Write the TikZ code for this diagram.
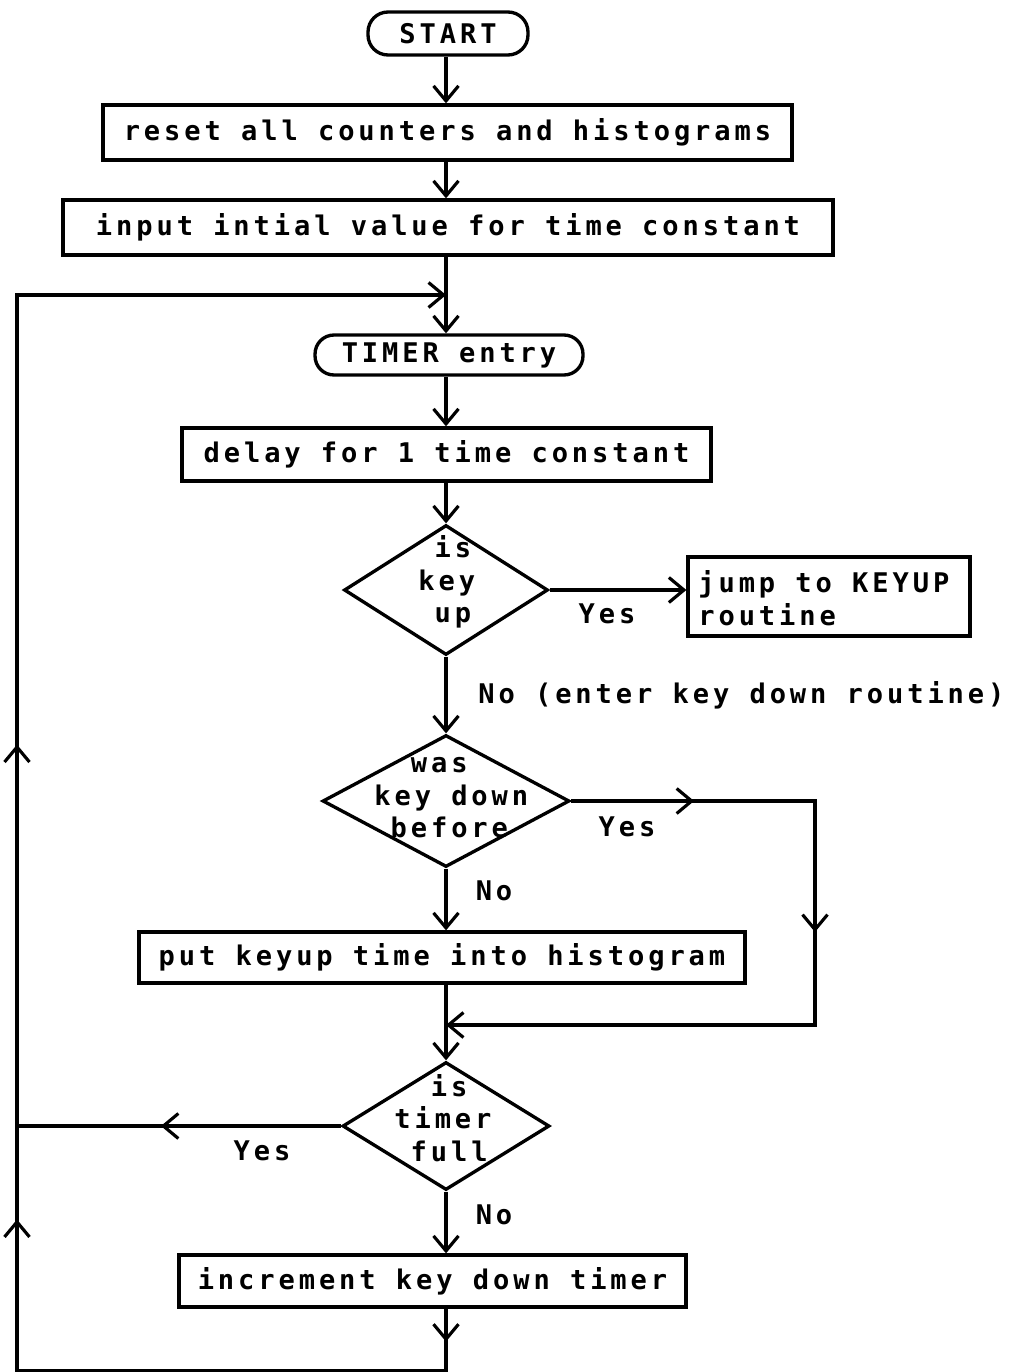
\documentclass[tikz,border=0pt]{standalone}
\usepackage{fontspec}
\setmonofont[LetterSpace=14.5]{DejaVu Sans Mono}
\usetikzlibrary{arrows.meta,shapes.geometric,decorations.markings}

\tikzset{
  >={Straight Barb[length=0.3cm,width=0.5cm,line width=1.8pt]},
  every node/.style={font=\ttfamily\bfseries\fontsize{15.4pt}{18.6pt}\selectfont, inner sep=0pt},
  flow/.style={line width=1.9pt, line join=miter},
  procbox/.style={draw, line width=1.9pt, rectangle, align=center},
  term/.style={draw, line width=1.9pt, rectangle, rounded corners=0.4cm},
  decision/.style={draw, line width=1.9pt, diamond},
  qtext/.style={align=left, anchor=west},
  midarrow/.style={postaction={decorate, decoration={markings,
      mark=at position #1 with {\arrow{>}}}}},
}

\begin{document}
\begin{tikzpicture}[x={(0.02cm,0)}, y={(0,-0.02cm)}]
  \path[use as bounding box] (0,0) rectangle (1029,1372);

  % vertical spine of the main flow
  \coordinate (spine) at (446,0);

  % terminals and process boxes
  \node[term, minimum width=3.2cm, minimum height=0.86cm] (start) at (448,33.5) {START};
  \node[procbox, minimum width=13.78cm, minimum height=1.1cm] (reset) at (447.5,132.5)
    {reset all counters and histograms};
  \node[procbox, minimum width=15.4cm, minimum height=1.1cm] (input) at (448,227.5)
    {input intial value for time constant};
  \node[term, minimum width=5.36cm, minimum height=0.8cm, rounded corners=0.38cm] (timer) at (449,355)
    {TIMER entry};
  \node[procbox, minimum width=10.58cm, minimum height=1.06cm] (delay) at (446.5,454.5)
    {delay for 1 time constant};

  % decision: is key up
  \node[decision, minimum width=4.08cm, minimum height=2.6cm] (q1) at (446,590) {};
  \node[qtext] (q1t) at (418,582) {\phantom{k}is\\key\\\phantom{k}up};
  \node[procbox, minimum width=5.64cm, minimum height=1.58cm] (jump) at (829,596.5) {};
  \node[qtext] (jumpt) at (698,598) {jump to KEYUP\\routine};

  % decision: was key down before
  \node[decision, minimum width=4.94cm, minimum height=2.64cm] (q2) at (446,801) {};
  \node[qtext] (q2t) at (374,795) {\phantom{ke}was\\key down\\\phantom{k}before};

  \node[procbox, minimum width=12.12cm, minimum height=1.02cm] (put) at (442,957.5)
    {put keyup time into histogram};

  % decision: is timer full
  \node[decision, minimum width=4.14cm, minimum height=2.56cm] (q3) at (446,1126) {};
  \node[qtext] (q3t) at (394,1118) {\phantom{ti}is\\timer\\\phantom{t}full};

  \node[procbox, minimum width=10.14cm, minimum height=1.04cm] (inc) at (432.5,1281)
    {increment key down timer};

  % routing points
  \coordinate (loopjoin) at (446,295);
  \coordinate (loopTL) at (17,295);
  \coordinate (loopBL) at (17,1371);
  \coordinate (loopBR) at (446,1371);
  \coordinate (yesR1) at (815,801);
  \coordinate (yesR2) at (815,1025);
  \coordinate (merge) at (446,1025);
  \coordinate (fullL) at (17,1126);

  % main flow
  \draw[flow,->] (start.south -| spine) -- (reset.north -| spine);
  \draw[flow,->] (reset.south -| spine) -- (input.north -| spine);
  \draw[flow,->] (input.south -| spine) -- (timer.north -| spine);
  \draw[flow,->] (timer.south -| spine) -- (delay.north -| spine);
  \draw[flow,->] (delay.south -| spine) -- (q1.north);
  \draw[flow,->] (q1.east) -- (jump.west |- q1.east);
  \draw[flow,->] (q1.south) -- (q2.north);
  \draw[flow,->] (q2.south) -- (put.north -| q2.south);
  \draw[flow,->] (put.south -| spine) -- (q3.north);
  \draw[flow,->] (q3.south) -- (inc.north -| q3.south);

  % "was key down before" yes branch
  \draw[flow,->,midarrow=2.46cm,midarrow=7.5cm] (q2.east) -- (yesR1) -- (yesR2) -- (merge);

  % "timer full" yes branch
  \draw[flow,midarrow=3.6cm] (q3.west) -- (fullL);

  % loop back to the timer entry
  \draw[flow,->,midarrow=0.66cm,midarrow=12.86cm,midarrow=22.36cm]
    (inc.south -| spine) -- (loopBR) -- (loopBL) -- (loopTL) -- (loopjoin);

  % branch labels
  \node (l1) at (607,614) {Yes};
  \node[anchor=west] (l2) at (478,695) {No (enter key down routine)};
  \node (l3) at (627,827) {Yes};
  \node (l4) at (494,891) {No};
  \node (l5) at (262,1151) {Yes};
  \node (l6) at (494,1215) {No};
\end{tikzpicture}
\end{document}
